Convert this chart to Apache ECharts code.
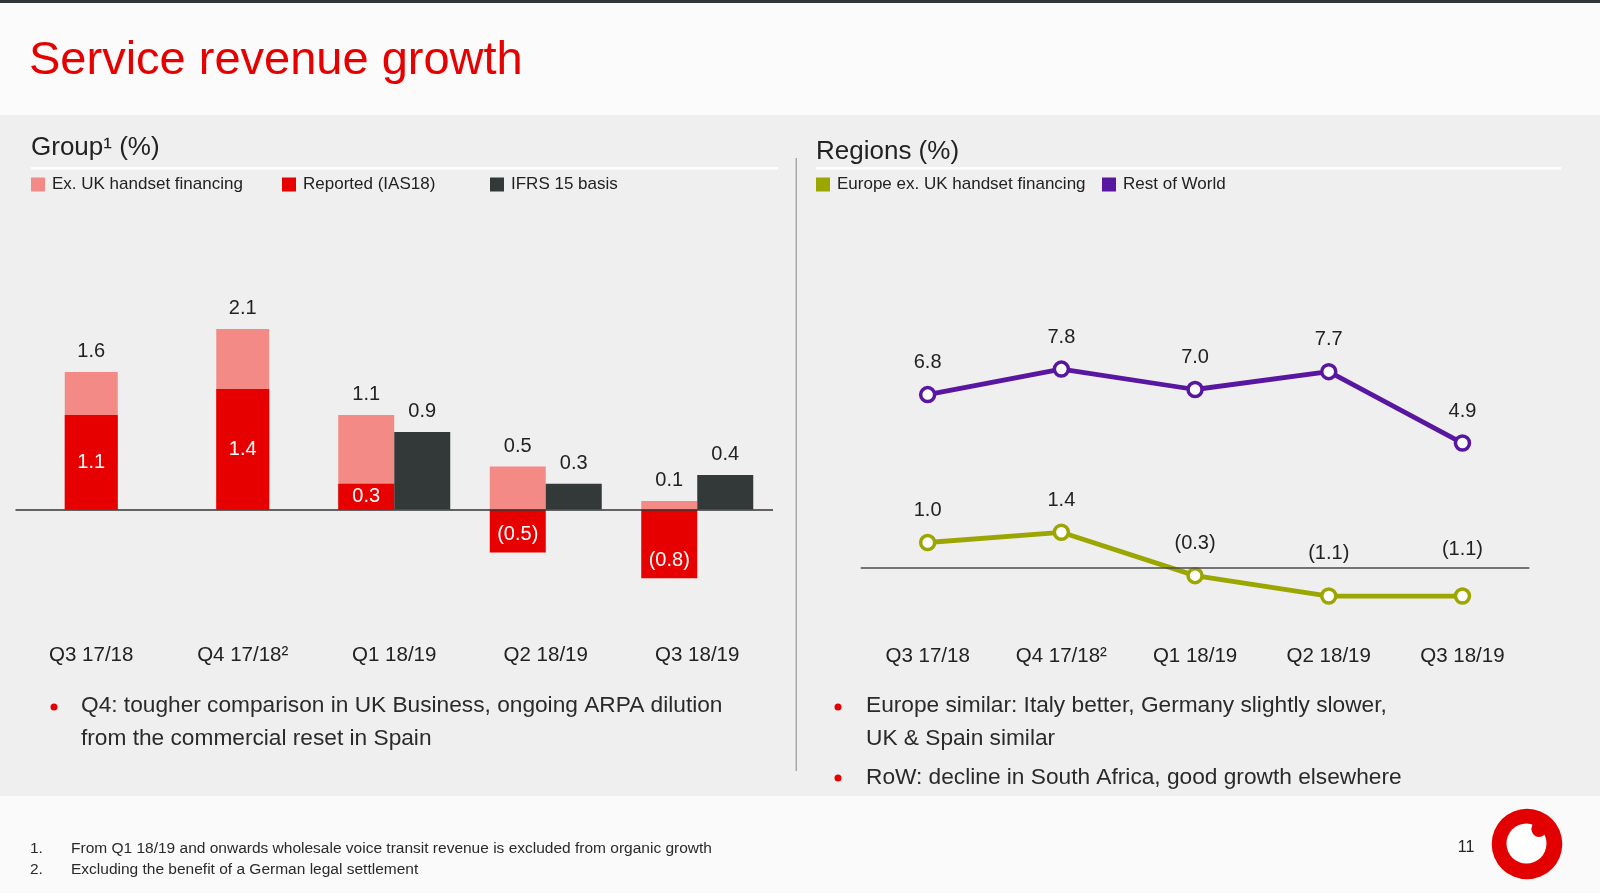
<!DOCTYPE html>
<html>
<head>
<meta charset="utf-8">
<title>Service revenue growth</title>
<script src="https://cdn.jsdelivr.net/npm/echarts/dist/echarts.min.js"></script>
<style>
  html, body { margin: 0; padding: 0; background: #efefef; }
  #chart { width: 1600px; height: 893px; }
</style>
</head>
<body>
<div id="chart"></div>
<script>
// ---------------- data ----------------
const categories = ['Q3 17/18', 'Q4 17/18\u00B2', 'Q1 18/19', 'Q2 18/19', 'Q3 18/19'];
const exUkHandset = [1.6, 2.1, 1.1, 0.5, 0.1];
const reportedIAS18 = [1.1, 1.4, 0.3, -0.5, -0.8];
const ifrs15Basis = [null, null, 0.9, 0.3, 0.4];
const europeExUk = [1.0, 1.4, -0.3, -1.1, -1.1];
const restOfWorld = [6.8, 7.8, 7.0, 7.7, 4.9];

// ---------------- styles ----------------
const FONT = "'Liberation Sans', Arial, sans-serif";
const C_PINK = '#f48a86';
const C_RED = '#e60000';
const C_DARK = '#333838';
const C_GREEN = '#9ca600';
const C_PURPLE = '#5916a0';
const C_TEXT = '#222222';

function fmt(v) {
  return v < 0 ? '(' + Math.abs(v).toFixed(1) + ')' : v.toFixed(1);
}

function barRenderer(kind) {
  return function (params, api) {
    const i = api.value(0);
    const v = api.value(1);
    const paired = ifrs15Basis[i] != null;
    const p0 = api.coord([i, 0]);
    const p1 = api.coord([i, v]);
    const w = paired ? 56 : 53;
    let x;
    if (kind === 'ifrs') x = p0[0];
    else x = paired ? p0[0] - w : p0[0] - w / 2;
    const yTop = Math.min(p0[1], p1[1]);
    const h = Math.abs(p1[1] - p0[1]);
    const children = [{
      type: 'rect',
      shape: { x: x, y: yTop, width: w, height: h },
      style: { fill: api.visual('color') }
    }];
    let ly, fill;
    if (kind === 'red') {
      fill = '#ffffff';
      ly = v >= 0 ? (p0[1] + p1[1]) / 2 : p1[1] - 18;
    } else {
      fill = C_TEXT;
      ly = p1[1] - 20.5;
    }
    children.push({
      type: 'text',
      x: x + w / 2, y: ly,
      style: { text: fmt(v), fill: fill, fontSize: 20, fontFamily: FONT, align: 'center', verticalAlign: 'middle' }
    });
    return { type: 'group', children: children };
  };
}

const chart = echarts.init(document.getElementById('chart'), null, { renderer: 'canvas', width: 1600, height: 893 });

function txt(x, y, text, size, color, align) {
  return {
    type: 'text', x: x, y: y, z: 5,
    style: { text: text, fill: color, fontSize: size, fontFamily: FONT, align: align || 'left', verticalAlign: 'middle' }
  };
}
function dot(x, y) {
  return { type: 'circle', z: 5, shape: { cx: x, cy: y, r: 3.5 }, style: { fill: C_RED } };
}

const graphics = [
  { type: 'rect', z: 0, shape: { x: 0, y: 0, width: 1600, height: 115 }, style: { fill: '#fbfbfb' } },
  { type: 'rect', z: 1, shape: { x: 0, y: 0, width: 1600, height: 3 }, style: { fill: '#30363a' } },
  { type: 'rect', z: 0, shape: { x: 0, y: 796, width: 1600, height: 97 }, style: { fill: '#fafafa' } },
  txt(29, 61, 'Service revenue growth', 47, C_RED),
  txt(31, 148, 'Group\u00B9 (%)', 26, C_TEXT),
  txt(816, 152, 'Regions (%)', 26, C_TEXT),
  { type: 'rect', z: 1, shape: { x: 31, y: 167, width: 747, height: 2.5 }, style: { fill: '#ffffff' } },
  { type: 'rect', z: 1, shape: { x: 816, y: 167, width: 745, height: 2.5 }, style: { fill: '#ffffff' } },
  { type: 'rect', z: 1, shape: { x: 795.5, y: 158, width: 1.5, height: 613 }, style: { fill: '#a9a9a9' } },
  dot(54, 707),
  txt(81, 706, 'Q4: tougher comparison in UK Business, ongoing ARPA dilution', 22.7, '#2a2a2a'),
  txt(81, 739, 'from the commercial reset in Spain', 22.7, '#2a2a2a'),
  dot(838, 707),
  txt(866, 706, 'Europe similar: Italy better, Germany slightly slower,', 22.7, '#2a2a2a'),
  txt(866, 739, 'UK & Spain similar', 22.7, '#2a2a2a'),
  dot(838, 778),
  txt(866, 777.5, 'RoW: decline in South Africa, good growth elsewhere', 22.7, '#2a2a2a'),
  txt(30, 848.5, '1.', 15.5, '#2a2a2a'),
  txt(71, 848.5, 'From Q1 18/19 and onwards wholesale voice transit revenue is excluded from organic growth', 15.5, '#2a2a2a'),
  txt(30, 870, '2.', 15.5, '#2a2a2a'),
  txt(71, 870, 'Excluding the benefit of a German legal settlement', 15.5, '#2a2a2a'),
  txt(1466, 848, '11', 16, '#222222', 'center'),
  // logo
  { type: 'circle', z: 5, shape: { cx: 1527, cy: 844, r: 35.3 }, style: { fill: '#e20000' } },
  { type: 'circle', z: 6, shape: { cx: 1526.5, cy: 843.5, r: 20 }, style: { fill: '#ffffff' } },
  { type: 'circle', z: 7, shape: { cx: 1539, cy: 829.5, r: 7.5 }, style: { fill: '#e20000' } },
  { type: 'polygon', z: 7, shape: { points: [[1531.6, 830], [1532.5, 823], [1535, 818.5], [1538, 815.5], [1546.5, 822], [1546.5, 830]] }, style: { fill: '#e20000' } }
];

const legendBase = { top: 176, padding: 0, icon: 'rect', itemWidth: 14, itemHeight: 14, itemGap: 0, selectedMode: false,
  textStyle: { fontSize: 17, color: C_TEXT, fontFamily: FONT, padding: [0, 0, 0, 2] } };

const option = {
  backgroundColor: '#efefef',
  animation: false,
  textStyle: { fontFamily: FONT },
  graphic: { elements: graphics },
  legend: [
    Object.assign({}, legendBase, { data: ['Ex. UK handset financing'], left: 31 }),
    Object.assign({}, legendBase, { data: ['Reported (IAS18)'], left: 282 }),
    Object.assign({}, legendBase, { data: ['IFRS 15 basis'], left: 490 }),
    Object.assign({}, legendBase, { data: [{ name: 'Europe ex. UK handset financing', itemStyle: { color: C_GREEN, borderWidth: 0 } }], left: 816 }),
    Object.assign({}, legendBase, { data: [{ name: 'Rest of World', itemStyle: { color: C_PURPLE, borderWidth: 0 } }], left: 1102 })
  ],
  grid: [
    { left: 15.5, width: 757.5, top: 251.5, height: 387, containLabel: false },
    { left: 860.8, width: 668.5, top: 313, height: 331.5, containLabel: false }
  ],
  xAxis: [
    { type: 'category', gridIndex: 0, data: categories, position: 'bottom',
      axisLine: { show: false, onZero: false }, axisTick: { show: false },
      axisLabel: { fontSize: 20.5, color: C_TEXT, margin: 6, fontFamily: FONT, interval: 0 } },
    { type: 'category', gridIndex: 1, data: categories, position: 'bottom',
      axisLine: { show: false, onZero: false }, axisTick: { show: false },
      axisLabel: { fontSize: 20.5, color: C_TEXT, margin: 1.5, fontFamily: FONT, interval: 0 } }
  ],
  yAxis: [
    { type: 'value', gridIndex: 0, min: -1.5, max: 3, show: false, splitLine: { show: false } },
    { type: 'value', gridIndex: 1, min: -3, max: 10, show: false, splitLine: { show: false } }
  ],
  series: [
    {
      name: 'Ex. UK handset financing', type: 'custom', xAxisIndex: 0, yAxisIndex: 0, z: 2,
      itemStyle: { color: C_PINK },
      renderItem: barRenderer('pink'),
      encode: { x: 0, y: 1 },
      data: exUkHandset.map((v, i) => [i, v])
    },
    {
      name: 'Reported (IAS18)', type: 'custom', xAxisIndex: 0, yAxisIndex: 0, z: 3,
      itemStyle: { color: C_RED },
      renderItem: barRenderer('red'),
      encode: { x: 0, y: 1 },
      data: reportedIAS18.map((v, i) => [i, v])
    },
    {
      name: 'IFRS 15 basis', type: 'custom', xAxisIndex: 0, yAxisIndex: 0, z: 4,
      itemStyle: { color: C_DARK },
      renderItem: barRenderer('ifrs'),
      encode: { x: 0, y: 1 },
      data: ifrs15Basis.map((v, i) => [i, v]).filter(d => d[1] != null),
      markLine: {
        silent: true, symbol: ['none', 'none'], label: { show: false },
        lineStyle: { color: '#333333', width: 1.6, type: 'solid' },
        data: [{ yAxis: 0 }]
      }
    },
    {
      name: 'Rest of World', type: 'line', xAxisIndex: 1, yAxisIndex: 1, z: 3,
      data: restOfWorld,
      symbol: 'circle', symbolSize: 14,
      itemStyle: { color: '#ffffff', borderColor: C_PURPLE, borderWidth: 3.5 },
      lineStyle: { color: C_PURPLE, width: 4.8 },
      label: { show: true, position: 'top', distance: 13, fontSize: 20, color: C_TEXT, fontFamily: FONT, formatter: p => fmt(p.value) },
      markLine: {
        silent: true, symbol: ['none', 'none'], label: { show: false },
        lineStyle: { color: '#4a4a4a', width: 1.6, type: 'solid' },
        data: [{ yAxis: 0 }]
      }
    },
    {
      name: 'Europe ex. UK handset financing', type: 'line', xAxisIndex: 1, yAxisIndex: 1, z: 4,
      data: europeExUk.map((v, i) => {
        const extra = { 3: 11, 4: 15 }[i] || 0;
        return { value: v, label: { distance: 13 + extra } };
      }),
      symbol: 'circle', symbolSize: 14,
      itemStyle: { color: '#ffffff', borderColor: C_GREEN, borderWidth: 3.5 },
      lineStyle: { color: C_GREEN, width: 4.8 },
      label: { show: true, position: 'top', distance: 13, fontSize: 20, color: C_TEXT, fontFamily: FONT, formatter: p => fmt(p.value) }
    }
  ]
};
chart.setOption(option);
</script>
</body>
</html>
